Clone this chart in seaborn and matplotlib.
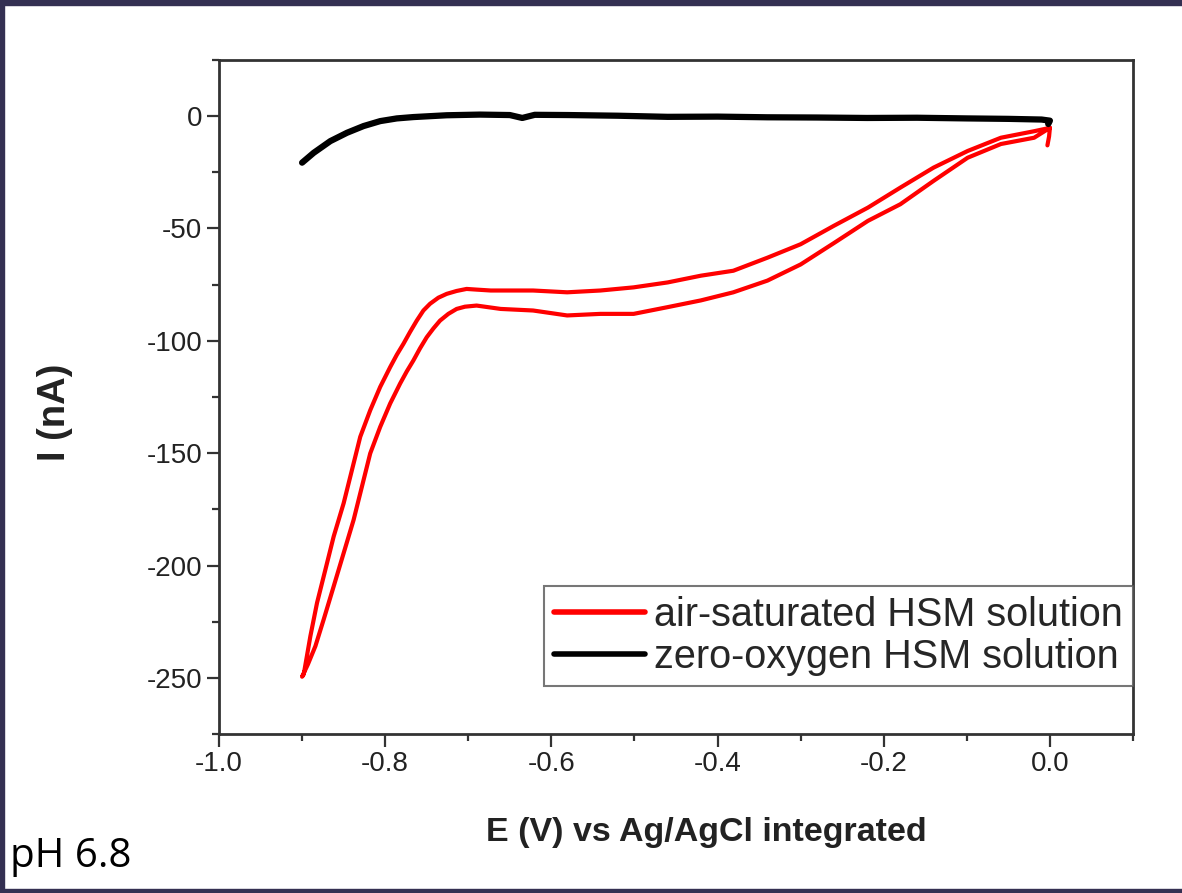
import matplotlib
matplotlib.use("Agg")
import matplotlib.pyplot as plt
from matplotlib.patches import Rectangle
from matplotlib.ticker import MultipleLocator
import pandas as pd
import seaborn as sns

# Cyclic voltammogram, air-saturated HSM solution (cathodic then return sweep)
air_E = [0.000, -0.019, -0.059, -0.099, -0.140, -0.180, -0.219, -0.260, -0.300, -0.340,
         -0.381, -0.420, -0.460, -0.501, -0.541, -0.581, -0.622, -0.661, -0.690, -0.704,
         -0.714, -0.724, -0.734, -0.742, -0.750, -0.758, -0.766, -0.774, -0.782, -0.794,
         -0.806, -0.818, -0.828, -0.838, -0.850, -0.862, -0.874, -0.884, -0.893, -0.900,
         -0.898, -0.890, -0.882, -0.872, -0.862, -0.850, -0.840, -0.830, -0.818, -0.806,
         -0.794, -0.786, -0.778, -0.770, -0.762, -0.754, -0.746, -0.736, -0.726, -0.714,
         -0.702, -0.690, -0.673, -0.622, -0.581, -0.541, -0.501, -0.460, -0.420, -0.381,
         -0.340, -0.300, -0.260, -0.219, -0.180, -0.140, -0.099, -0.059, -0.019, 0.000,
         -0.001, -0.003]
air_I = [-5.2, -9.6, -12.4, -18.5, -28.8, -39.2, -46.6, -56.5, -66.0, -73.2,
         -78.4, -82.0, -85.0, -88.0, -88.0, -88.7, -86.5, -85.8, -84.3, -84.8,
         -85.8, -88.0, -91.0, -94.5, -98.4, -103.3, -108.7, -113.6, -119.0, -127.9,
         -138.3, -150.1, -164.9, -179.7, -194.5, -209.3, -224.0, -235.9, -244.0, -249.5,
         -248.4, -231.4, -216.6, -201.9, -187.1, -172.3, -157.5, -142.7, -130.9, -120.5,
         -111.7, -106.2, -101.3, -96.0, -91.0, -86.5, -83.5, -80.8, -79.1, -77.8,
         -76.9, -77.2, -77.6, -77.6, -78.4, -77.6, -76.2, -74.0, -71.0, -68.8,
         -63.0, -57.0, -48.8, -40.7, -31.8, -22.9, -15.5, -9.6, -6.7, -5.2,
         -9.0, -13.0]

# Same sweep in zero-oxygen HSM solution
zero_E = [-0.900, -0.886, -0.866, -0.846, -0.826, -0.806, -0.786, -0.766, -0.726, -0.686,
          -0.650, -0.635, -0.620, -0.580, -0.520, -0.460, -0.400, -0.340, -0.280, -0.220,
          -0.160, -0.100, -0.050, -0.010, 0.000, -0.002]
zero_I = [-20.7, -16.3, -11.1, -7.4, -4.4, -2.2, -1.0, -0.4, 0.4, 0.7,
          0.5, -0.8, 0.6, 0.5, 0.2, -0.3, -0.2, -0.5, -0.6, -0.8,
          -0.7, -1.0, -1.2, -1.5, -2.0, -3.5]

labels = ["air-saturated HSM solution", "zero-oxygen HSM solution"]
colors = ["#ff0000", "#000000"]

df_air = pd.DataFrame({"E": air_E, "I": air_I})
df_zero = pd.DataFrame({"E": zero_E, "I": zero_I})

sns.set_theme(style="ticks")
plt.rcParams["font.family"] = ["Liberation Sans", "DejaVu Sans"]

W, H = 1182, 893
fig = plt.figure(figsize=(W / 100, H / 100), dpi=100)
fig.patch.set_facecolor("white")
ax = fig.add_axes([219 / W, 1 - 734 / H, (1133 - 219) / W, (734 - 60) / H])

sns.lineplot(data=df_air, x="E", y="I", sort=False, estimator=None,
             color=colors[0], linewidth=3.0, label=labels[0], ax=ax)
sns.lineplot(data=df_zero, x="E", y="I", sort=False, estimator=None,
             color=colors[1], linewidth=4.5, label=labels[1], ax=ax)

ax.set_xlim(-1.0, 0.1)
ax.set_ylim(-275, 25)
ax.xaxis.set_minor_locator(MultipleLocator(0.1))
ax.yaxis.set_minor_locator(MultipleLocator(25))
ax.set_xticks([-1.0, -0.8, -0.6, -0.4, -0.2, 0.0])
ax.set_xticklabels(["-1.0", "-0.8", "-0.6", "-0.4", "-0.2", "0.0"])
ax.set_yticks([0, -50, -100, -150, -200, -250])
ax.set_yticklabels(["0", "-50", "-100", "-150", "-200", "-250"])

for s in ax.spines.values():
    s.set_linewidth(2.0)
    s.set_color("#333333")
ax.tick_params(which="major", direction="out", length=9, width=1.6,
               color="#333333", labelsize=20, labelcolor="#222222", pad=3)
ax.tick_params(which="minor", direction="out", length=5, width=1.6, color="#333333")
ax.tick_params(top=False, right=False, which="both")

ax.set_xlabel("E (V) vs Ag/AgCl integrated", fontsize=24.5, fontweight="bold",
              color="#222222", va="center")
ax.xaxis.set_label_coords((706 - 219) / 914, (734 - 832) / 674)
ax.set_ylabel("I (nA)", fontsize=27.5, fontweight="bold", color="#222222", va="center")
ax.yaxis.set_label_coords((55 - 219) / 914, (734 - 412) / 674)

leg = ax.legend(loc="lower right", bbox_to_anchor=(1.0, (734 - 686) / 674),
                fontsize=28.5, frameon=True, fancybox=False, handlelength=2.3,
                handletextpad=0.23, labelspacing=0.1, borderpad=0.25,
                borderaxespad=0.0)
leg.get_frame().set_edgecolor("#555555")
leg.get_frame().set_linewidth(1.5)
for line in leg.get_lines():
    line.set_linewidth(4.0)

fig.text(10 / W, 1 - 867 / H, "pH 6.8", fontsize=29, family=["Open Sans", "DejaVu Sans"],
         ha="left", va="baseline", color="black")

# dark slide frame around the figure
frame_col = "#343052"
fig.patches.extend([
    Rectangle((0, 1 - 5 / H), 1, 5 / H, transform=fig.transFigure, color=frame_col, zorder=10),
    Rectangle((0, 0), 4 / W, 1, transform=fig.transFigure, color=frame_col, zorder=10),
    Rectangle((0, 0), 1, 4 / H, transform=fig.transFigure, color=frame_col, zorder=10),
])

fig.savefig("out.png", dpi=100)
